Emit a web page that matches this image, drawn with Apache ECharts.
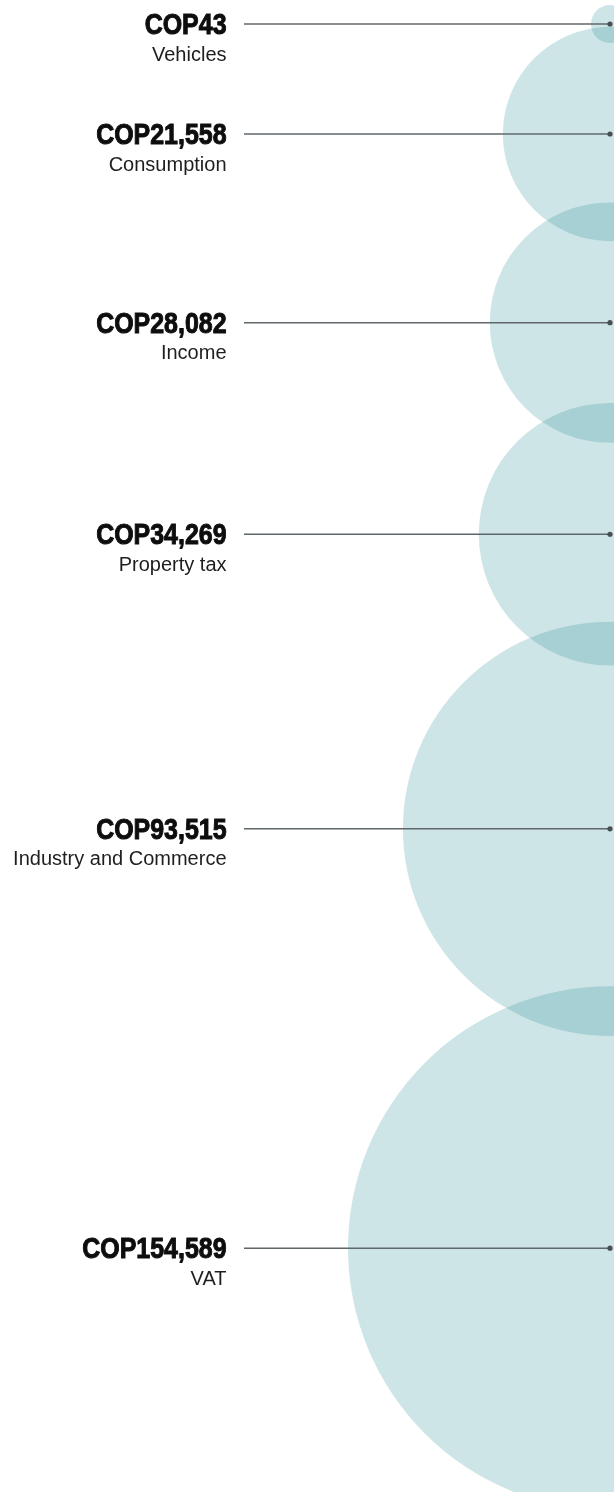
<!DOCTYPE html>
<html>
<head>
<meta charset="utf-8">
<title>Tax revenue by type</title>
<script src="https://cdn.jsdelivr.net/npm/echarts@6/dist/echarts.min.js"></script>
<style>
  html, body { margin: 0; padding: 0; background: #fff; }
  #main { width: 614px; height: 1492px; }
</style>
</head>
<body>
<div id="main"></div>
<script>
// categories and values (COP, from the labels)
const categories = ['Vehicles', 'Consumption', 'Income', 'Property tax', 'Industry and Commerce', 'VAT'];
const values = [43, 21558, 28082, 34269, 93515, 154589];
const currency = 'COP';

// layout settings
const width = 614, height = 1492;
const centerX = 610;      // circles hang on the right edge
const lineStartX = 244;
const textRightX = 226.5;
const rMin = 19, rMax = 262;
const firstTop = 5;
const minGap = 110;
const gapFactor = 0.6;

const sMin = Math.sqrt(Math.min(...values));
const sMax = Math.sqrt(Math.max(...values));

// sqrt scale for the radius
function radius(v) {
  return rMin + (Math.sqrt(v) - sMin) / (sMax - sMin) * (rMax - rMin);
}

// stack the circles down the page, letting neighbours overlap a bit
const centers = [];
values.forEach(function (v, i) {
  if (i === 0) {
    centers.push(firstTop + radius(v));
  } else {
    const gap = Math.max(minGap, gapFactor * (Math.sqrt(values[i - 1]) + Math.sqrt(v)));
    centers.push(centers[i - 1] + gap);
  }
});

function fmt(v) {
  return currency + v.toLocaleString('en-US');
}

const chart = echarts.init(document.getElementById('main'), null, { renderer: 'canvas' });

const option = {
  backgroundColor: '#ffffff',
  animation: false,
  grid: { left: 0, right: 0, top: 0, bottom: 0 },
  xAxis: { type: 'value', min: 0, max: width, show: false },
  yAxis: { type: 'value', min: 0, max: height, inverse: true, show: false },
  series: [
    {
      // bubbles
      type: 'scatter',
      silent: true,
      data: values.map(function (v, i) { return [centerX, centers[i], v]; }),
      symbol: 'circle',
      symbolSize: function (d) { return radius(d[2]) * 2; },
      itemStyle: { color: '#18828f', opacity: 0.21 },
      z: 1
    },
    {
      // leader lines + labels
      type: 'custom',
      silent: true,
      data: values.map(function (v, i) { return [i, centers[i], v]; }),
      renderItem: function (params, api) {
        const i = api.value(0);
        const y = api.value(1);
        const end = api.coord([centerX, y]);
        const start = api.coord([lineStartX, y]);
        const tx = api.coord([textRightX, y])[0];
        return {
          type: 'group',
          children: [
            {
              type: 'line',
              shape: { x1: start[0], y1: start[1], x2: end[0], y2: end[1] },
              style: { stroke: '#5f676b', lineWidth: 1.5 }
            },
            {
              type: 'circle',
              shape: { cx: end[0], cy: end[1], r: 2.6 },
              style: { fill: '#474f53' }
            },
            {
              // squeezed heavy sans, close to the condensed face in the original
              type: 'text',
              x: tx,
              y: end[1] + 2,
              scaleX: 0.86,
              style: {
                x: 0,
                y: 0,
                text: fmt(api.value(2)),
                align: 'right',
                verticalAlign: 'middle',
                fontFamily: '"Liberation Sans", Arial, Helvetica, sans-serif',
                fontWeight: 'bold',
                fontSize: 29,
                fill: '#0d0d0d',
                stroke: '#0d0d0d',
                lineWidth: 1
              }
            },
            {
              type: 'text',
              style: {
                x: tx,
                y: end[1] + 31,
                text: categories[i],
                align: 'right',
                verticalAlign: 'middle',
                fontFamily: '"Liberation Sans", Arial, Helvetica, sans-serif',
                fontSize: 20,
                fill: '#1e1e1e'
              }
            }
          ]
        };
      },
      z: 2
    }
  ]
};

chart.setOption(option);
</script>
</body>
</html>
